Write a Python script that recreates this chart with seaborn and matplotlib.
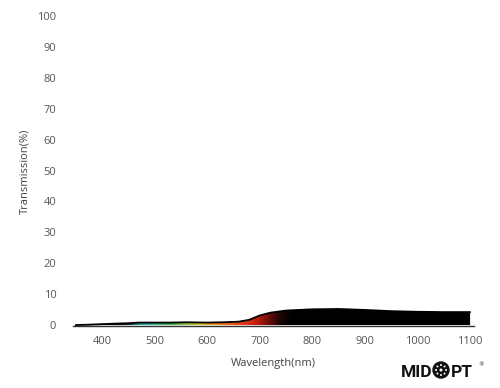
import numpy as np
import pandas as pd
import matplotlib
matplotlib.use("Agg")
import matplotlib.pyplot as plt
import seaborn as sns
from matplotlib.colors import LinearSegmentedColormap
from matplotlib.patches import Ellipse

# ---- data ----
wavelength = [350, 370, 400, 430, 450, 470, 500, 530, 560, 600, 630, 660, 680, 700,
              720, 750, 800, 850, 900, 950, 1000, 1050, 1100]
transmission = [0.0, 0.1, 0.3, 0.5, 0.6, 0.8, 0.8, 0.8, 0.9, 0.8, 0.9, 1.1, 1.7, 3.1,
                4.0, 4.7, 5.1, 5.2, 4.9, 4.5, 4.3, 4.2, 4.2]
xticks = [400, 500, 600, 700, 800, 900, 1000, 1100]
yticks = [0, 10, 20, 30, 40, 50, 60, 70, 80, 90, 100]

df = pd.DataFrame({"Wavelength": wavelength, "Transmission": transmission})

sns.set_theme(style="white")
plt.rcParams['font.family'] = ['Open Sans', 'DejaVu Sans']

W, H = 500, 388
fig = plt.figure(figsize=(W / 100, H / 100), dpi=100)
ax = fig.add_axes([0.146, 0.1598, 0.8026, 0.799])

xmin, xmax = 345, 1108
ax.set_xlim(xmin, xmax)
ax.set_ylim(-0.3, 100)

# spectrum gradient clipped by the filled area
stops = [(350, "#000000"), (445, "#0a0f10"), (458, "#1a6670"), (472, "#2aa2a6"),
         (500, "#39b38c"), (530, "#44ae48"), (560, "#8cc23a"), (585, "#d6c020"),
         (605, "#f0a020"), (630, "#f07018"), (660, "#e8401a"), (690, "#c82010"),
         (710, "#8a1008"), (735, "#250505"), (760, "#000000"), (1110, "#000000")]
lo, hi = stops[0][0], stops[-1][0]
cmap = LinearSegmentedColormap.from_list(
    "spec", [((w - lo) / (hi - lo), c) for w, c in stops])
xs = np.linspace(xmin, xmax, 800)
grad = ((xs - lo) / (hi - lo))[None, :]
img = ax.imshow(grad, cmap=cmap, vmin=0, vmax=1, aspect="auto",
                extent=[xmin, xmax, -0.3, 100], origin="lower", zorder=1)
poly = ax.fill_between(df["Wavelength"], 0, df["Transmission"], color="none", lw=0)
path = poly.get_paths()[0]
img.set_clip_path(path, transform=ax.transData)

sns.lineplot(data=df, x="Wavelength", y="Transmission", ax=ax, color="black",
             lw=1.3, zorder=3)

ax.set_xticks(xticks)
ax.set_yticks(yticks)
ax.tick_params(axis="x", direction="out", length=4, width=1, color="#333333",
               labelsize=8, labelcolor="#555555", pad=3)
ax.tick_params(axis="y", length=0, labelsize=8, labelcolor="#555555", pad=12)
for s in ["top", "right", "left"]:
    ax.spines[s].set_visible(False)
ax.spines["bottom"].set_color("#333333")
ax.spines["bottom"].set_linewidth(1)

ax.set_xlabel("Wavelength(nm)", fontsize=8, color="#444444", labelpad=8)
ax.set_ylabel("Transmission(%)", fontsize=8, color="#444444", labelpad=5)

# logo
fig.text(401 / W, 1 - 377 / H, "MID", fontsize=12.5, fontweight="bold",
         color="#111111", ha="left", va="baseline", family="Roboto")
cx, cy, r = 441.0, 370.0, 8.0
fig.add_artist(Ellipse((cx / W, 1 - cy / H), 2 * r / W, 2 * r / H,
                       transform=fig.transFigure, color="#111111"))
for k in range(8):
    a = k * np.pi / 4
    fig.add_artist(Ellipse(((cx + 5 * np.cos(a)) / W, 1 - (cy + 5 * np.sin(a)) / H),
                           2.0 / W, 2.0 / H, transform=fig.transFigure,
                           color="white", lw=0))
fig.add_artist(Ellipse((cx / W, 1 - cy / H), 3.0 / W, 3.0 / H,
                       transform=fig.transFigure, color="white", lw=0))
fig.text(451 / W, 1 - 377 / H, "PT", fontsize=12.5, fontweight="bold",
         color="#111111", ha="left", va="baseline", family="Roboto")
fig.text(478 / W, 1 - 366 / H, "®", fontsize=4, color="#111111", ha="left",
         va="baseline", family="DejaVu Sans")

fig.savefig("out.png", dpi=100)
